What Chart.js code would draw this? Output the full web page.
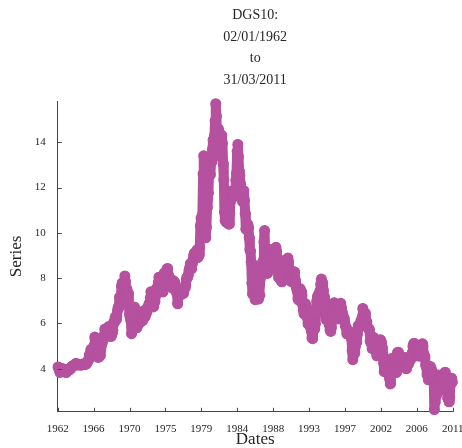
<!DOCTYPE html>
<html>
<head>
<meta charset="utf-8">
<script src="https://cdn.jsdelivr.net/npm/chart.js@4.4.1/dist/chart.umd.min.js"></script>
<style>
html,body{margin:0;padding:0;background:#fff;}
#wrap{width:462px;height:448px;}
</style>
</head>
<body>
<div id="wrap"><canvas id="chart" width="462" height="448"></canvas></div>
<script>

// DGS10, one value per month, Jan 1962 .. Mar 2011
const dgs1960s=[
4.08,4.04,3.93,3.84,3.87,3.91,4.01,3.98,3.98,3.93,3.92,3.86,
3.83,3.92,3.93,3.97,3.93,3.99,4.02,4.00,4.08,4.11,4.12,4.13,
4.17,4.15,4.22,4.23,4.20,4.17,4.19,4.19,4.20,4.19,4.15,4.18,
4.19,4.21,4.21,4.20,4.21,4.21,4.20,4.25,4.29,4.35,4.45,4.62,
4.61,4.83,4.87,4.75,4.78,4.81,5.02,5.40,5.30,5.01,5.16,4.84,
4.50,4.63,4.54,4.59,4.85,5.02,5.16,5.28,5.30,5.48,5.75,5.70,
5.53,5.56,5.74,5.64,5.87,5.72,5.50,5.42,5.46,5.58,5.70,6.03,
6.04,6.19,6.30,6.17,6.32,6.57,6.72,6.69,7.16,7.10,7.14,7.65
];
const dgs1970s=[
7.79,7.24,7.07,7.39,8.10,7.84,7.46,7.53,7.39,7.33,6.84,6.39,
6.24,6.11,5.55,5.83,6.39,6.52,6.73,6.58,6.14,5.93,5.81,5.93,
5.95,6.08,6.07,6.19,6.13,6.11,6.11,6.21,6.55,6.48,6.28,6.36,
6.46,6.64,6.71,6.67,6.85,6.90,7.13,7.40,7.09,6.79,6.73,6.74,
6.99,6.96,7.21,7.51,7.58,7.54,7.81,8.04,8.04,7.90,7.68,7.43,
7.50,7.39,7.73,8.23,8.06,7.86,8.06,8.40,8.43,8.14,8.05,8.00,
7.74,7.79,7.73,7.56,7.90,7.86,7.83,7.77,7.59,7.41,7.29,6.87,
7.21,7.39,7.46,7.37,7.46,7.28,7.33,7.40,7.34,7.52,7.58,7.69,
7.96,8.03,8.04,8.15,8.35,8.46,8.64,8.41,8.42,8.64,8.81,9.01,
9.10,9.10,9.12,9.18,9.25,8.91,8.95,9.03,9.33,10.30,10.65,10.39
];
const dgs1980s=[
10.80,12.60,13.40,11.47,10.18,9.78,10.25,11.10,11.51,11.75,12.68,12.84,
12.57,13.19,13.12,13.68,14.10,13.47,14.28,14.94,15.70,15.15,13.39,13.72,
14.59,14.43,13.86,13.87,13.62,14.30,13.95,13.06,12.34,10.91,10.55,10.54,
10.46,10.72,10.51,10.40,10.38,10.85,11.38,11.85,11.65,11.54,11.69,11.83,
11.67,11.84,12.32,12.63,13.60,13.90,13.36,12.72,12.52,12.16,11.57,11.50,
11.38,11.51,11.86,11.43,10.85,10.16,10.31,10.33,10.37,10.24,9.78,9.26,
9.19,8.70,7.78,7.30,7.71,7.80,7.30,7.05,7.45,7.43,7.25,7.11,
7.08,7.25,7.25,8.02,8.61,8.40,8.45,8.76,9.60,10.10,8.86,8.99,
8.67,8.21,8.37,8.72,9.09,8.92,9.06,9.26,8.98,8.80,8.96,9.11,
9.09,9.17,9.36,9.18,8.86,8.28,8.02,8.11,8.19,8.01,7.87,7.84
];
const dgs1990s=[
8.21,8.47,8.59,8.79,8.76,8.48,8.47,8.75,8.89,8.72,8.39,8.08,
8.09,7.85,8.11,8.04,8.07,8.28,8.27,7.90,7.65,7.53,7.42,7.09,
7.03,7.34,7.54,7.48,7.39,7.26,6.84,6.59,6.42,6.59,6.87,6.77,
6.60,6.26,5.98,5.97,6.04,5.96,5.81,5.68,5.36,5.33,5.72,5.77,
5.75,5.97,6.48,6.97,7.18,7.10,7.30,7.24,7.46,7.74,7.96,7.81,
7.78,7.47,7.20,7.06,6.63,6.17,6.28,6.49,6.20,6.04,5.93,5.71,
5.65,5.81,6.27,6.51,6.74,6.91,6.87,6.64,6.83,6.53,6.20,6.30,
6.58,6.42,6.69,6.89,6.71,6.49,6.22,6.30,6.21,6.03,5.88,5.81,
5.54,5.57,5.65,5.64,5.65,5.50,5.46,5.34,4.81,4.40,4.83,4.65,
4.72,5.00,5.23,5.18,5.54,5.90,5.79,5.94,5.92,6.11,6.03,6.28
];
const dgs2000s=[
6.66,6.52,6.26,5.99,6.44,6.10,6.05,5.83,5.80,5.74,5.72,5.24,
5.16,5.10,4.89,5.14,5.39,5.28,5.24,4.97,4.73,4.57,4.65,5.09,
5.04,4.91,5.28,5.21,5.16,4.93,4.65,4.26,3.87,3.94,4.05,4.03,
4.05,3.90,3.81,3.96,3.57,3.33,3.98,4.45,4.27,4.29,4.30,4.27,
4.15,4.08,3.83,4.35,4.72,4.73,4.50,4.28,4.13,4.10,4.19,4.23,
4.22,4.17,4.50,4.34,4.14,4.00,4.18,4.26,4.20,4.46,4.54,4.47,
4.42,4.57,4.72,4.99,5.11,5.11,5.09,4.88,4.72,4.73,4.60,4.56,
4.76,4.72,4.56,4.69,4.75,5.10,5.00,4.67,4.52,4.53,4.15,4.10,
3.74,3.74,3.51,3.68,3.88,4.10,4.01,3.89,3.69,3.81,3.53,2.20,
2.52,2.87,2.82,2.93,3.29,3.72,3.56,3.59,3.40,3.39,3.40,3.59
];
const dgs2010s=[
3.73,3.69,3.73,3.85,3.42,3.20,3.01,2.70,2.65,2.54,2.76,3.29,
3.39,3.58,3.41
];

const xTickLabels=["1962","1966","1970","1975","1979","1984","1988","1993","1997","2002","2006","2011"];
const yTicks=[4,6,8,10,12,14];
const titleLines=["DGS10:","02/01/1962","to","31/03/2011"];

const firstYear=1962;
const xMin=1962.003; // 02/01/1962
const xMax=2011.246; // 31/03/2011

const serif="'Liberation Serif','DejaVu Serif',serif";
const ink="#262626";
const axisColor="#444";
const purple="#b5519f";

const monthly=[].concat(dgs1960s,dgs1970s,dgs1980s,dgs1990s,dgs2000s,dgs2010s);
const points=monthly.map((v,i)=>({x:firstYear+(i+0.5)/12,y:v}));

// small ticks pointing into the plot, like the original
const innerTicks={
id:"innerTicks",
afterDraw(chart){
const ctx=chart.ctx;
const a=chart.chartArea;
const xs=chart.scales.x;
const ys=chart.scales.y;
ctx.save();
ctx.strokeStyle=axisColor;
ctx.lineWidth=1;
ctx.beginPath();
xs.ticks.forEach(t=>{
const px=Math.round(xs.getPixelForValue(t.value))+0.5;
ctx.moveTo(px,a.bottom);
ctx.lineTo(px,a.bottom-4);
});
ys.ticks.forEach(t=>{
const py=Math.round(ys.getPixelForValue(t.value))+0.5;
ctx.moveTo(a.left,py);
ctx.lineTo(a.left+4,py);
});
ctx.stroke();
ctx.restore();
}
};

new Chart(document.getElementById("chart"),{
type:"scatter",
data:{
datasets:[{
data:points,
showLine:true,
borderColor:purple,
borderWidth:10,
borderJoinStyle:"round",
borderCapStyle:"round",
pointRadius:5.5,
pointBackgroundColor:purple,
pointBorderWidth:0,
tension:0,
clip:false
}]
},
options:{
responsive:false,
animation:false,
events:[],
devicePixelRatio:1,
layout:{padding:{left:0,right:9.3,top:0,bottom:0}},
plugins:{
legend:{display:false},
tooltip:{enabled:false}
},
scales:{
// top axis only carries the title, centred over the plot
xTop:{
type:"linear",
position:"top",
min:xMin,
max:xMax,
ticks:{display:false},
grid:{display:false},
border:{display:false},
title:{
display:true,
text:titleLines,
color:ink,
font:{family:serif,size:14,lineHeight:21.9/14},
padding:{top:4,bottom:0}
},
afterFit:s=>{
s.height=101;
s.paddingLeft=0;
s.paddingRight=0;
}
},
x:{
type:"linear",
position:"bottom",
min:xMin,
max:xMax,
afterBuildTicks:s=>{
s.ticks=xTickLabels.map((l,i)=>({value:xMin+i*(xMax-xMin)/(xTickLabels.length-1)}));
},
afterFit:s=>{
s.height=36.2;
s.paddingLeft=0;
s.paddingRight=0;
},
ticks:{
callback:(v,i)=>xTickLabels[i],
color:ink,
font:{family:serif,size:11},
padding:3,
maxRotation:0,
autoSkip:false
},
grid:{display:false},
border:{display:true,color:axisColor,width:1},
title:{
display:true,
text:"Dates",
color:ink,
font:{family:serif,size:17,lineHeight:1},
padding:{top:0,bottom:0}
}
},
y:{
type:"linear",
min:2.1,
max:15.82,
afterBuildTicks:s=>{
s.ticks=yTicks.map(v=>({value:v}));
},
afterFit:s=>{
s.width=57.7;
s.paddingTop=0;
s.paddingBottom=0;
},
ticks:{
color:ink,
font:{family:serif,size:11},
padding:4
},
grid:{display:false},
border:{display:true,color:axisColor,width:1},
title:{
display:true,
text:"Series",
color:ink,
font:{family:serif,size:17,lineHeight:1},
padding:{top:8.5,bottom:0}
}
}
}
},
plugins:[innerTicks]
});
</script>
</body>
</html>
